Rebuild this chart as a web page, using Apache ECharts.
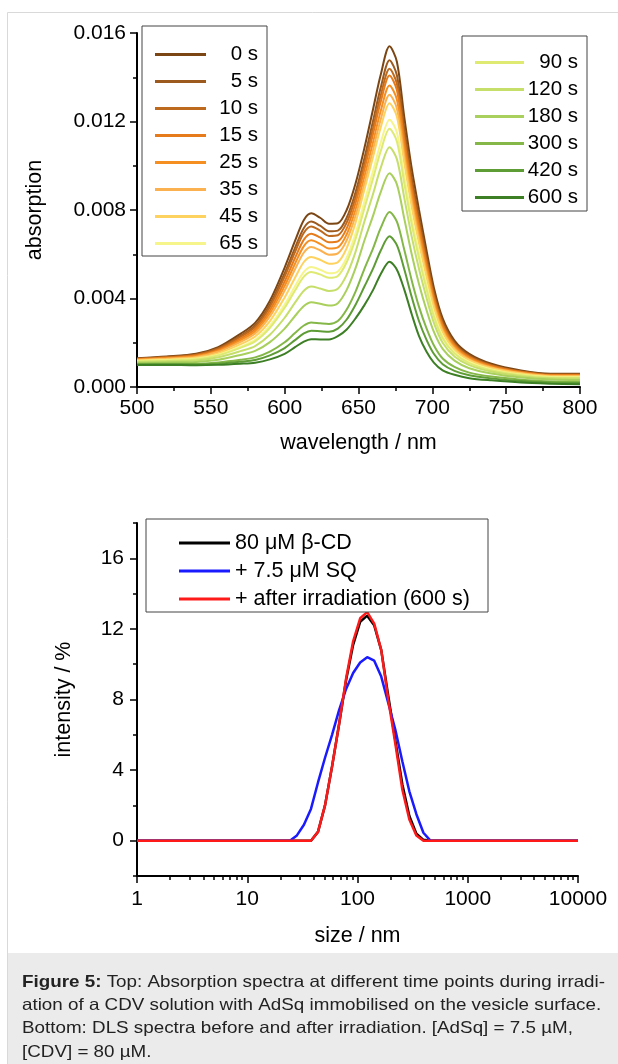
<!DOCTYPE html>
<html>
<head>
<meta charset="utf-8">
<script src="https://cdn.jsdelivr.net/npm/echarts@6/dist/echarts.min.js"></script>
<style>
html,body{margin:0;padding:0;background:#fff;}
#c{width:618px;height:1064px;}
</style>
</head>
<body>
<div id="c"></div>
<script>
// ---------- Top panel: absorption spectra ----------
const wavelength = [500,520,540,555,570,580,590,600,607,613,618,624,630,636,642,648,654,660,665,671,676,681,686,691,696,701,707,715,725,740,760,780,800];
const timeLabels = ['0 s','5 s','10 s','15 s','25 s','35 s','45 s','65 s','90 s','120 s','180 s','300 s','420 s','600 s'];
const timeColors = ['#7b4614','#9c5a1e','#bd6a1f','#e67b1b','#f58f22','#fbb14f','#fdd25f','#f6f58c','#dfea73','#c6de6a','#a9cf5c','#84b747','#5e9c35','#3c7f24'];

const abs_0s   = [0.00130,0.00138,0.00150,0.00180,0.00240,0.00290,0.00390,0.00540,0.00660,0.00755,0.00785,0.00765,0.00738,0.00740,0.00800,0.00920,0.01080,0.01260,0.01410,0.01540,0.01470,0.01220,0.00990,0.00800,0.00620,0.00450,0.00310,0.00210,0.00150,0.00105,0.00075,0.00060,0.00060];
const abs_5s   = [0.00128,0.00136,0.00147,0.00175,0.00231,0.00278,0.00373,0.00515,0.00629,0.00719,0.00748,0.00729,0.00704,0.00707,0.00765,0.00880,0.01034,0.01207,0.01352,0.01477,0.01409,0.01169,0.00947,0.00763,0.00590,0.00428,0.00295,0.00200,0.00143,0.00100,0.00071,0.00057,0.00057];
const abs_10s  = [0.00127,0.00134,0.00145,0.00172,0.00226,0.00271,0.00362,0.00499,0.00610,0.00697,0.00725,0.00707,0.00683,0.00686,0.00743,0.00856,0.01005,0.01174,0.01316,0.01438,0.01371,0.01138,0.00921,0.00740,0.00572,0.00414,0.00285,0.00194,0.00138,0.00097,0.00069,0.00055,0.00055];
const abs_15s  = [0.00125,0.00132,0.00142,0.00167,0.00218,0.00261,0.00347,0.00477,0.00583,0.00666,0.00693,0.00676,0.00654,0.00658,0.00717,0.00832,0.00983,0.01149,0.01288,0.01408,0.01342,0.01114,0.00900,0.00723,0.00557,0.00404,0.00278,0.00189,0.00135,0.00095,0.00068,0.00054,0.00054];
const abs_25s  = [0.00124,0.00130,0.00139,0.00163,0.00211,0.00252,0.00333,0.00457,0.00557,0.00637,0.00663,0.00647,0.00626,0.00631,0.00690,0.00802,0.00951,0.01111,0.01246,0.01363,0.01299,0.01078,0.00870,0.00696,0.00536,0.00388,0.00267,0.00182,0.00130,0.00091,0.00065,0.00052,0.00051];
const abs_35s  = [0.00122,0.00128,0.00136,0.00159,0.00204,0.00242,0.00319,0.00436,0.00532,0.00608,0.00633,0.00618,0.00598,0.00604,0.00663,0.00774,0.00920,0.01076,0.01208,0.01321,0.01259,0.01045,0.00842,0.00672,0.00517,0.00374,0.00257,0.00175,0.00125,0.00088,0.00063,0.00050,0.00049];
const abs_45s  = [0.00120,0.00125,0.00132,0.00152,0.00193,0.00228,0.00298,0.00405,0.00494,0.00565,0.00588,0.00575,0.00557,0.00564,0.00628,0.00743,0.00893,0.01044,0.01172,0.01283,0.01222,0.01014,0.00816,0.00650,0.00499,0.00360,0.00248,0.00169,0.00121,0.00085,0.00061,0.00048,0.00047];
const abs_65s  = [0.00117,0.00122,0.00128,0.00146,0.00182,0.00213,0.00277,0.00373,0.00455,0.00520,0.00542,0.00530,0.00514,0.00522,0.00585,0.00694,0.00838,0.00980,0.01103,0.01208,0.01150,0.00954,0.00765,0.00606,0.00463,0.00334,0.00230,0.00157,0.00113,0.00079,0.00056,0.00045,0.00044];
const abs_90s  = [0.00116,0.00120,0.00126,0.00143,0.00177,0.00206,0.00267,0.00358,0.00436,0.00499,0.00520,0.00509,0.00494,0.00502,0.00564,0.00669,0.00808,0.00946,0.01065,0.01167,0.01110,0.00921,0.00737,0.00582,0.00444,0.00320,0.00220,0.00151,0.00108,0.00076,0.00054,0.00043,0.00042];
const abs_120s = [0.00113,0.00116,0.00120,0.00134,0.00162,0.00185,0.00236,0.00313,0.00381,0.00435,0.00454,0.00445,0.00434,0.00444,0.00507,0.00611,0.00748,0.00876,0.00989,0.01084,0.01030,0.00855,0.00681,0.00533,0.00405,0.00291,0.00200,0.00138,0.00099,0.00070,0.00049,0.00039,0.00038];
const abs_180s = [0.00109,0.00111,0.00113,0.00123,0.00145,0.00163,0.00203,0.00264,0.00321,0.00366,0.00383,0.00376,0.00368,0.00379,0.00439,0.00537,0.00662,0.00777,0.00880,0.00966,0.00916,0.00761,0.00601,0.00464,0.00349,0.00250,0.00172,0.00119,0.00085,0.00061,0.00043,0.00034,0.00032];
const abs_300s = [0.00104,0.00105,0.00105,0.00111,0.00123,0.00134,0.00160,0.00202,0.00244,0.00278,0.00292,0.00288,0.00285,0.00298,0.00350,0.00431,0.00534,0.00629,0.00718,0.00791,0.00747,0.00620,0.00483,0.00362,0.00266,0.00189,0.00129,0.00091,0.00065,0.00047,0.00033,0.00025,0.00023];
const abs_420s = [0.00102,0.00103,0.00102,0.00105,0.00114,0.00122,0.00143,0.00176,0.00212,0.00242,0.00254,0.00252,0.00250,0.00264,0.00305,0.00372,0.00454,0.00537,0.00616,0.00681,0.00641,0.00532,0.00408,0.00297,0.00214,0.00150,0.00103,0.00073,0.00053,0.00039,0.00027,0.00020,0.00018];
const abs_600s = [0.00100,0.00100,0.00098,0.00100,0.00105,0.00110,0.00125,0.00150,0.00180,0.00205,0.00216,0.00215,0.00215,0.00230,0.00260,0.00310,0.00370,0.00440,0.00510,0.00566,0.00530,0.00440,0.00330,0.00230,0.00160,0.00110,0.00075,0.00055,0.00040,0.00030,0.00020,0.00015,0.00012];
const absSeries = [abs_0s,abs_5s,abs_10s,abs_15s,abs_25s,abs_35s,abs_45s,abs_65s,abs_90s,abs_120s,abs_180s,abs_300s,abs_420s,abs_600s];

// ---------- Bottom panel: DLS ----------
const sizeNm   = [1,21.04,24.36,28.21,32.67,37.84,43.82,50.75,58.77,68.06,78.82,91.28,105.7,122.4,141.8,164.2,190.1,220.2,255.0,295.3,342.0,396.1,458.7,531.2,10000];
const dls_CD   = [0,0,0,0,0,0,0.5,2.0,4.2,6.6,9.1,11.1,12.4,12.75,12.2,10.8,8.2,5.7,3.2,1.4,0.4,0.05,0,0,0];
const dls_SQ   = [0,0,0,0.3,0.9,1.8,3.3,4.7,6.0,7.4,8.6,9.5,10.1,10.4,10.2,9.3,7.8,6.3,4.5,2.8,1.5,0.45,0,0,0];
const dls_irr  = [0,0,0,0,0,0,0.5,2.0,4.2,6.6,9.2,11.3,12.6,12.95,12.3,10.8,8.0,5.5,2.9,1.2,0.3,0,0,0,0];
const dlsNames = ['80 μM β-CD','+ 7.5 μM SQ','+ after irradiation (600 s)'];
const dlsColors = ['#000000','#1a1aff','#ff1a1a'];

const dlsYMajor = [0,4,8,12,16];
const dlsYMinor = [-2,2,6,10,14,18];
const sizeMinor = [2,3,4,5,6,7,8,9,20,30,40,50,60,70,80,90,200,300,400,500,600,700,800,900,2000,3000,4000,5000,6000,7000,8000,9000];

const FONT = '"Liberation Sans", Arial, Helvetica, sans-serif';
const axisLine = {show:true, onZero:false, lineStyle:{color:'#000', width:2}};
const tickMajor = {show:true, inside:false, length:7, lineStyle:{color:'#000', width:1.5}};
const labelStyle = {color:'#000', fontSize:21, fontFamily:FONT};
const nameStyle = {color:'#000', fontSize:21.5, fontFamily:FONT};

const series = [];
absSeries.forEach((vals, i) => {
  series.push({
    name: timeLabels[i], type:'line', xAxisIndex:0, yAxisIndex:0,
    symbol:'none', smooth:0.3, animation:false,
    color: timeColors[i],
    lineStyle:{width:2, color:timeColors[i]},
    data: wavelength.map((w, k) => [w, vals[k]])
  });
});
[dls_CD, dls_SQ, dls_irr].forEach((vals, i) => {
  series.push({
    name: dlsNames[i], type:'line', xAxisIndex:1, yAxisIndex:1,
    symbol:'none', animation:false,
    color: dlsColors[i],
    lineStyle:{width:2.5, color:dlsColors[i]},
    data: sizeNm.map((s, k) => [s, vals[k]])
  });
});

const legendCommon = {
  orient:'vertical', icon:'rect', itemWidth:51, itemHeight:3, selectedMode:false,
  borderColor:'#444', borderWidth:1, backgroundColor:'#fff'
};

const option = {
  animation:false,
  backgroundColor:'#fff',
  grid:[
    {left:137, top:33, width:443, height:354},
    {left:137, top:523, width:441, height:353}
  ],
  xAxis:[
    {type:'value', gridIndex:0, min:500, max:800, interval:50, position:'bottom',
     axisLine, axisTick:tickMajor,
     minorTick:{show:true, splitNumber:2, length:4, lineStyle:{color:'#000', width:1.5}},
     splitLine:{show:false}, minorSplitLine:{show:false},
     axisLabel:Object.assign({margin:11}, labelStyle),
     name:'wavelength / nm', nameLocation:'middle', nameGap:45, nameTextStyle:nameStyle},
    {type:'log', logBase:10, gridIndex:1, min:1, max:10000, position:'bottom',
     axisLine, axisTick:tickMajor, splitLine:{show:false},
     axisLabel:Object.assign({margin:13, formatter: v => String(v)}, labelStyle),
     name:'size / nm', nameLocation:'middle', nameGap:49, nameTextStyle:nameStyle},
    {type:'log', logBase:10, gridIndex:1, min:1, max:10000, position:'bottom',
     axisLine:{show:false, onZero:false}, splitLine:{show:false}, axisLabel:{show:false},
     axisTick:{show:true, inside:false, length:4, customValues:sizeMinor, lineStyle:{color:'#000', width:1.5}}}
  ],
  yAxis:[
    {type:'value', gridIndex:0, min:0, max:0.016, interval:0.004, position:'left',
     axisLine, axisTick:tickMajor,
     minorTick:{show:true, splitNumber:2, length:4, lineStyle:{color:'#000', width:1.5}},
     splitLine:{show:false}, minorSplitLine:{show:false},
     axisLabel:Object.assign({margin:11, formatter:v => v.toFixed(3)}, labelStyle),
     name:'absorption', nameLocation:'middle', nameGap:91, nameTextStyle:nameStyle},
    {type:'value', gridIndex:1, min:-2, max:18, position:'left',
     axisLine, splitLine:{show:false},
     axisTick:Object.assign({customValues:dlsYMajor}, tickMajor),
     axisLabel:Object.assign({margin:13, customValues:dlsYMajor}, labelStyle),
     name:'intensity / %', nameLocation:'middle', nameGap:62, nameTextStyle:nameStyle},
    {type:'value', gridIndex:1, min:-2, max:18, position:'left',
     axisLine:{show:false, onZero:false}, splitLine:{show:false}, axisLabel:{show:false},
     axisTick:{show:true, inside:false, length:4, customValues:dlsYMinor, lineStyle:{color:'#000', width:1.5}}}
  ],
  legend:[
    Object.assign({}, legendCommon, {
      data: timeLabels.slice(0,8), left:142, top:26, itemGap:6,
      padding:[18,9,2,13],
      formatter: n => '{r|' + n + '}',
      textStyle:{color:'#000', fontSize:20.5, fontFamily:FONT, lineHeight:20,
        rich:{r:{width:47, align:'right', fontSize:20.5, fontFamily:FONT, color:'#000', lineHeight:20}}}
    }),
    Object.assign({}, legendCommon, {
      data: timeLabels.slice(8), left:462, top:36, itemGap:6, itemWidth:49,
      padding:[16,9,3,13],
      formatter: n => '{r|' + n + '}',
      textStyle:{color:'#000', fontSize:20.5, fontFamily:FONT, lineHeight:20,
        rich:{r:{width:49, align:'right', fontSize:20.5, fontFamily:FONT, color:'#000', lineHeight:20}}}
    }),
    Object.assign({}, legendCommon, {
      data: dlsNames, left:146, top:519, itemGap:6,
      padding:[13,8,2,33],
      textStyle:{color:'#000', fontSize:21.5, fontFamily:FONT, width:245, align:'left', lineHeight:20}
    })
  ],
  graphic:[
    {type:'line', silent:true, shape:{x1:7.5, y1:12.5, x2:618, y2:12.5}, style:{stroke:'#d9d9d9', lineWidth:1}},
    {type:'line', silent:true, shape:{x1:7.5, y1:12.5, x2:7.5, y2:1064}, style:{stroke:'#d9d9d9', lineWidth:1}},
    {type:'rect', silent:true, shape:{x:8, y:953, width:610, height:111}, style:{fill:'#ebebeb'}},
    {type:'text', silent:true, x:22, y:982, scaleX:1.14, style:{
      text:'{b|Figure 5:} Top: Absorption spectra at different time points during irradi-',
      fontSize:16.5, fontFamily:FONT, fill:'#222', verticalAlign:'middle',
      rich:{b:{fontWeight:'bold', fontSize:16.5, fontFamily:FONT, fill:'#222'}}}},
    {type:'text', silent:true, x:22, y:1005, scaleX:1.14, style:{
      text:'ation of a CDV solution with AdSq immobilised on the vesicle surface.',
      fontSize:16.5, fontFamily:FONT, fill:'#222', verticalAlign:'middle'}},
    {type:'text', silent:true, x:22, y:1028, scaleX:1.14, style:{
      text:'Bottom: DLS spectra before and after irradiation. [AdSq] = 7.5 µM,',
      fontSize:16.5, fontFamily:FONT, fill:'#222', verticalAlign:'middle'}},
    {type:'text', silent:true, x:22, y:1052, scaleX:1.14, style:{
      text:'[CDV] = 80 µM.',
      fontSize:16.5, fontFamily:FONT, fill:'#222', verticalAlign:'middle'}}
  ],
  series
};

const chart = echarts.init(document.getElementById('c'));
chart.setOption(option);
</script>
</body>
</html>
